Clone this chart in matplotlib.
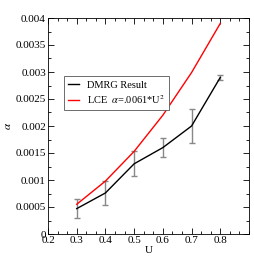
import matplotlib
matplotlib.use("Agg")
import matplotlib.pyplot as plt
from matplotlib.ticker import MultipleLocator, FixedFormatter, FixedLocator, FormatStrFormatter

# ===================================
# Data
# ===================================

u_vals = [0.3, 0.4, 0.5, 0.6, 0.7, 0.8]
dmrg = [0.00047, 0.00076, 0.00130, 0.00160, 0.00200, 0.00290]
dmrg_err = [0.00017, 0.00023, 0.00023, 0.00018, 0.00032, 0.00005]
lce = [0.00055, 0.00098, 0.00153, 0.00220, 0.00299, 0.00390]
x_ticks = [0.2, 0.3, 0.4, 0.5, 0.6, 0.7, 0.8]

# ===================================
# Plotting
# ===================================

plt.rcParams['font.family'] = ['Liberation Serif', 'DejaVu Serif']
plt.rcParams['mathtext.fontset'] = 'stix'

fig = plt.figure(figsize=(2.54, 2.61), dpi=100)
ax = fig.add_axes([48 / 254, 1 - 234 / 261, 201 / 254, 216 / 261])

# error bars (gray), line drawn separately so the legend shows a plain line
ax.errorbar(u_vals, dmrg, yerr=dmrg_err, fmt='none',
            ecolor='#888888', elinewidth=1.0, capsize=2.5, capthick=1.0)
ax.plot(u_vals, dmrg, color='black', lw=1.0, label='DMRG Result')
ax.plot(u_vals, lce, color='red', lw=1.0, label=r'LCE  $\alpha$=.0061*U$^2$')

ax.set_xlim(0.2, 0.9)
ax.set_ylim(0, 0.004)
ax.xaxis.set_major_locator(FixedLocator(x_ticks))
ax.xaxis.set_minor_locator(MultipleLocator(0.1 / 3))
ax.yaxis.set_major_locator(MultipleLocator(0.0005))
ax.yaxis.set_minor_locator(MultipleLocator(0.00025))
ax.xaxis.set_major_formatter(FormatStrFormatter('%g'))
ax.yaxis.set_major_formatter(FormatStrFormatter('%g'))
# tick mark at 0.9 without a label
ax.set_xticks([0.9], minor=True)
ax.xaxis.set_minor_locator(FixedLocator(
    [0.2 + i * 0.1 / 3 for i in range(22) if i % 3 != 0] + [0.9]))

ax.tick_params(which='both', direction='in', top=True, right=True,
               labelsize=8, pad=1.5, width=0.6)
ax.tick_params(which='major', length=4)
ax.tick_params(which='minor', length=2)
for s in ax.spines.values():
    s.set_linewidth(0.6)

ax.set_xlabel('U', fontsize=8, labelpad=1)
ax.set_ylabel(r'$\alpha$', fontsize=8, labelpad=2)

leg = ax.legend(loc='upper left', bbox_to_anchor=(0.08, 0.73),
                borderaxespad=0, fontsize=7.5, fancybox=False,
                edgecolor='#555555', handlelength=1.0, handletextpad=0.8,
                borderpad=0.4, labelspacing=0.3, framealpha=1)
leg.get_frame().set_linewidth(0.6)

plt.savefig('out.png', dpi=100)
